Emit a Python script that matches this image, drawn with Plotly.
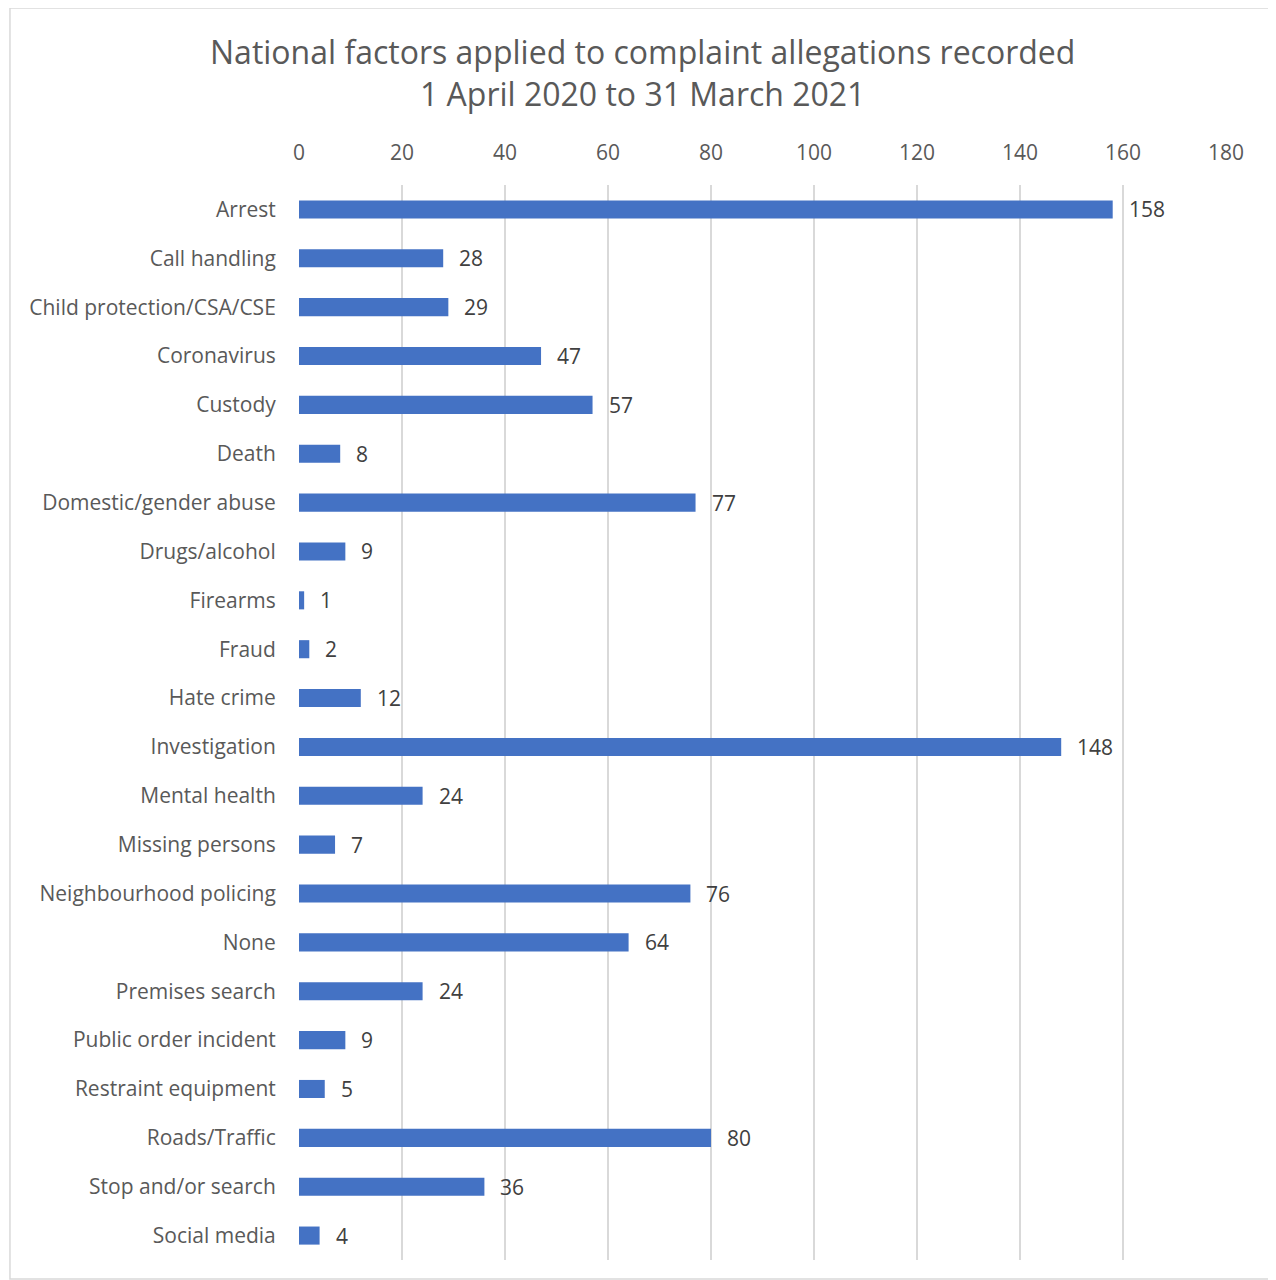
import plotly.graph_objects as go

categories = ["Arrest", "Call handling", "Child protection/CSA/CSE", "Coronavirus", "Custody",
              "Death", "Domestic/gender abuse", "Drugs/alcohol", "Firearms", "Fraud",
              "Hate crime", "Investigation", "Mental health", "Missing persons",
              "Neighbourhood policing", "None", "Premises search", "Public order incident",
              "Restraint equipment", "Roads/Traffic", "Stop and/or search", "Social media"]
values = [158, 28, 29, 47, 57, 8, 77, 9, 1, 2, 12, 148, 24, 7, 76, 64, 24, 9, 5, 80, 36, 4]
x_ticks = [0, 20, 40, 60, 80, 100, 120, 140, 160, 180]

FONT = "Open Sans"
fig = go.Figure()
fig.add_trace(go.Bar(
    x=values, y=categories, orientation="h",
    marker=dict(color="#4472C4", line=dict(width=0)),
    hoverinfo="x+y",
))

annotations = [
    dict(x=v, y=c, xref="x", yref="y", text=str(v), showarrow=False,
         xanchor="left", yanchor="middle", xshift=14,
         font=dict(family=FONT, size=21, color="#404040"))
    for c, v in zip(categories, values)
]

# title
annotations.append(dict(
    xref="paper", yref="paper", x=0.3706, y=1.1046, xanchor="center", yanchor="middle",
    text="National factors applied to complaint allegations recorded<br>1 April 2020 to 31 March 2021",
    showarrow=False, font=dict(family=FONT, size=32, color="#595959")))

fig.update_layout(
    width=1276, height=1280,
    margin=dict(l=291, r=58, t=177, b=28),
    paper_bgcolor="white", plot_bgcolor="white",
    showlegend=False,
    bargap=0.63,
    annotations=annotations,
    shapes=[dict(type="rect", xref="paper", yref="paper",
                 x0=-0.3118, x1=1.0525, y0=-0.0177, y1=1.1647,
                 line=dict(color="#d9d9d9", width=1.5), fillcolor="rgba(0,0,0,0)", layer="below")],
    xaxis=dict(side="top", range=[0, 180], tickvals=x_ticks, showgrid=True,
               gridcolor="#d9d9d9", gridwidth=1.5, zeroline=False, showline=False,
               ticks="outside", ticklen=16, tickcolor="rgba(0,0,0,0)",
               tickfont=dict(family=FONT, size=21, color="#595959")),
    yaxis=dict(autorange="reversed", showgrid=False, zeroline=False, showline=False,
               ticks="outside", ticklen=18, tickcolor="rgba(0,0,0,0)",
               tickfont=dict(family=FONT, size=21, color="#595959")),
)

fig.write_html("out.html")
